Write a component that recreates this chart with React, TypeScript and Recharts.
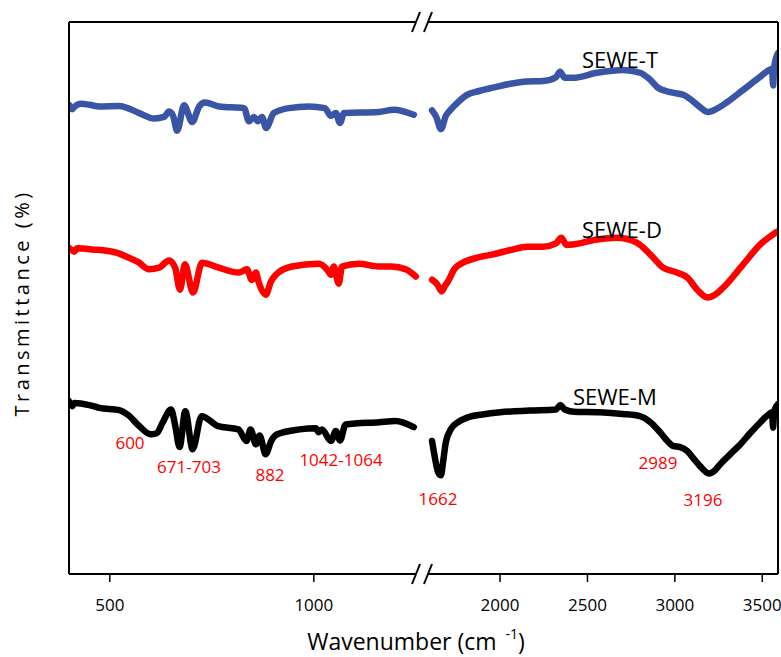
import { LineChart, Line, XAxis, YAxis } from 'recharts';

// wavenumber (cm-1) vs. offset transmittance
const tLeft: [number, number][] = [
  [400, 85.0], [408, 84.2], [413, 84.6], [430, 85.2], [450, 85.0], [474, 84.7], [523, 84.8], [572, 83.5],
  [609, 82.5], [633, 82.8], [645, 83.8], [655, 83.0], [665, 80.3], [682, 84.9], [702, 81.9], [719, 84.7],
  [733, 85.4], [768, 84.7], [829, 84.4], [841, 82.0], [853, 82.8], [863, 82.0], [873, 82.8], [883, 80.8],
  [902, 83.5], [939, 84.4], [988, 84.7], [1027, 84.4], [1042, 83.0], [1054, 83.5], [1064, 81.7],
  [1074, 83.5], [1159, 83.7], [1196, 84.1], [1245, 83.2],
];
const tRight: [number, number][] = [
  [1611, 84.0], [1635, 82.8], [1662, 80.6], [1690, 83.0], [1714, 84.0], [1760, 85.5], [1811, 86.8],
  [1880, 87.5], [1960, 88.1], [2060, 88.8], [2155, 89.2], [2246, 89.3], [2320, 90.0], [2343, 91.0],
  [2370, 89.9], [2418, 89.9], [2555, 90.8], [2704, 91.3], [2801, 90.8], [2860, 89.5], [2899, 88.2],
  [2973, 87.3], [3048, 86.8], [3090, 86.0], [3128, 85.0], [3191, 83.7], [3240, 84.3], [3300, 85.5],
  [3391, 87.7], [3489, 90.1], [3540, 91.3], [3556, 91.5], [3562, 88.5], [3568, 91.8], [3591, 94.4],
];

const dLeft: [number, number][] = [
  [400, 59.1], [408, 58.6], [413, 58.4], [420, 59.0], [457, 58.8], [516, 58.2], [540, 57.5], [570, 56.5],
  [596, 55.2], [621, 55.5], [645, 56.8], [660, 55.5], [672, 51.5], [684, 56.1], [704, 51.0], [726, 56.4],
  [767, 55.5], [816, 54.6], [836, 55.2], [848, 53.3], [858, 54.6], [865, 52.8], [882, 50.6], [895, 53.0],
  [907, 54.2], [946, 55.7], [1012, 56.2], [1032, 55.2], [1042, 54.2], [1049, 55.7], [1061, 52.6],
  [1069, 55.7], [1110, 56.2], [1159, 55.7], [1191, 55.7], [1225, 55.2], [1250, 53.9],
];
const dRight: [number, number][] = [
  [1611, 53.3], [1640, 52.5], [1666, 51.2], [1685, 52.2], [1702, 53.0], [1740, 55.3], [1788, 56.4],
  [1870, 57.3], [1960, 57.9], [2060, 58.7], [2155, 59.3], [2246, 59.3], [2320, 59.9], [2350, 60.9],
  [2380, 59.6], [2418, 59.7], [2555, 60.6], [2670, 60.9], [2784, 60.0], [2859, 57.9], [2933, 55.5],
  [3013, 54.6], [3071, 53.7], [3128, 51.5], [3185, 50.1], [3230, 50.6], [3277, 51.9], [3391, 56.1],
  [3489, 59.7], [3585, 62.0],
];

const mLeft: [number, number][] = [
  [400, 31.3], [408, 30.4], [413, 31.0], [450, 30.6], [474, 30.1], [523, 29.7], [545, 28.8], [572, 26.8],
  [600, 25.3], [615, 25.5], [630, 27.5], [650, 29.8], [660, 27.0], [671, 23.0], [685, 29.5], [703, 22.6],
  [725, 28.6], [765, 26.8], [815, 26.2], [835, 24.1], [845, 26.2], [858, 23.5], [867, 25.1], [882, 21.7],
  [895, 24.0], [910, 25.3], [965, 26.2], [1005, 26.4], [1012, 25.7], [1020, 26.2], [1042, 24.1],
  [1054, 25.9], [1064, 24.2], [1078, 27.1], [1160, 27.5], [1200, 27.7], [1245, 26.6],
];
const mRight: [number, number][] = [
  [1611, 24.1], [1625, 21.5], [1645, 18.5], [1662, 17.9], [1675, 20.5], [1690, 23.9], [1720, 26.3],
  [1760, 27.5], [1817, 28.4], [1900, 28.9], [2000, 29.3], [2170, 29.6], [2320, 29.8], [2345, 30.6],
  [2370, 29.8], [2420, 29.4], [2570, 29.3], [2700, 29.0], [2800, 28.6], [2860, 27.5], [2915, 25.7],
  [2960, 24.0], [2989, 23.2], [3030, 23.0], [3070, 22.3], [3110, 20.8], [3145, 19.5], [3196, 18.2],
  [3230, 18.8], [3260, 19.9], [3320, 21.8], [3375, 23.5], [3430, 25.5], [3490, 27.5], [3540, 29.0],
  [3556, 29.3], [3562, 26.5], [3568, 29.5], [3591, 30.8],
];

const leftDomain = [400, 1270];
const rightDomain = [1565, 3590];
const leftTicks = [500, 1000];
const rightTicks = [2000, 2500, 3000, 3500];

const seriesNames = ['SEWE-T', 'SEWE-D', 'SEWE-M'];
const peakLabels = ['600', '671-703', '882', '1042-1064', '1662', '2989', '3196'];

const BLUE = '#3A55A6';
const RED = '#FF0000';
const FONT = '"Open Sans", "Liberation Sans", sans-serif';

const toPts = (arr: [number, number][]) => arr.map(([x, y]) => ({ x, y }));

const tickStyle = { fill: '#000', fontSize: 17, fontFamily: FONT };

function Segment({ domain, ticks, width, margin, series }: {
  domain: number[];
  ticks: number[];
  width: number;
  margin: { top: number; right: number; bottom: number; left: number };
  series: { data: [number, number][]; color: string; id: string }[];
}) {
  return (
    <LineChart width={width} height={657} margin={margin} style={{ overflow: 'visible' }}>
      <XAxis
        dataKey="x"
        type="number"
        domain={domain}
        ticks={ticks}
        allowDataOverflow
        axisLine={false}
        tickLine={{ stroke: '#000', strokeWidth: 1.5 }}
        tickSize={8}
        tickMargin={17}
        height={40}
        tick={tickStyle}
      />
      <YAxis hide type="number" domain={[0, 100]} />
      {series.map((s) => (
        <Line
          key={s.id}
          data={toPts(s.data)}
          dataKey="y"
          type="monotone"
          stroke={s.color}
          strokeWidth={6.5}
          strokeLinecap="round"
          strokeLinejoin="round"
          dot={false}
          isAnimationActive={false}
        />
      ))}
    </LineChart>
  );
}

export default function App() {
  const left = 69, right = 778, top = 22, bottom = 574, brk = 424;
  const lbl = { fill: RED, fontSize: 17, fontFamily: FONT, textAnchor: 'middle' as const };
  const name = { fill: '#000', fontSize: 22, fontFamily: FONT };
  return (
    <div style={{ position: 'relative', width: 781, height: 657, background: '#fff', overflow: 'hidden' }}>
      <style>{'body{margin:0}'}</style>
      <div style={{ position: 'absolute', left: 0, top: 0 }}>
        <Segment
          domain={leftDomain}
          ticks={leftTicks}
          width={brk}
          margin={{ top, right: 0, bottom: 657 - bottom - 40, left }}
          series={[
            { id: 't', data: tLeft, color: BLUE },
            { id: 'd', data: dLeft, color: RED },
            { id: 'm', data: mLeft, color: '#000' },
          ]}
        />
      </div>
      <div style={{ position: 'absolute', left: brk, top: 0 }}>
        <Segment
          domain={rightDomain}
          ticks={rightTicks}
          width={781 - brk}
          margin={{ top, right: 781 - right, bottom: 657 - bottom - 40, left: 0 }}
          series={[
            { id: 't', data: tRight, color: BLUE },
            { id: 'd', data: dRight, color: RED },
            { id: 'm', data: mRight, color: '#000' },
          ]}
        />
      </div>
      <svg width={781} height={657} style={{ position: 'absolute', left: 0, top: 0, pointerEvents: 'none' }}>
        <g stroke="#000" strokeWidth={2} fill="none">
          <line x1={left} y1={top} x2={left} y2={bottom} />
          <line x1={right} y1={top} x2={right} y2={bottom} />
          <line x1={left} y1={top} x2={brk - 8} y2={top} />
          <line x1={brk + 4} y1={top} x2={right} y2={top} />
          <line x1={left} y1={bottom} x2={brk - 8} y2={bottom} />
          <line x1={brk + 4} y1={bottom} x2={right} y2={bottom} />
          <line x1={brk - 12} y1={top + 10} x2={brk - 4} y2={top - 10} />
          <line x1={brk} y1={top + 10} x2={brk + 8} y2={top - 10} />
          <line x1={brk - 12} y1={bottom + 10} x2={brk - 4} y2={bottom - 10} />
          <line x1={brk} y1={bottom + 10} x2={brk + 8} y2={bottom - 10} />
        </g>
        <text x={582} y={68} {...name}>{seriesNames[0]}</text>
        <text x={582} y={238} {...name}>{seriesNames[1]}</text>
        <text x={573} y={405} {...name}>{seriesNames[2]}</text>
        <text x={130} y={449} {...lbl}>{peakLabels[0]}</text>
        <text x={189} y={473} {...lbl}>{peakLabels[1]}</text>
        <text x={270} y={481} {...lbl}>{peakLabels[2]}</text>
        <text x={341} y={466} {...lbl}>{peakLabels[3]}</text>
        <text x={438} y={505} {...lbl}>{peakLabels[4]}</text>
        <text x={658} y={469} {...lbl}>{peakLabels[5]}</text>
        <text x={703} y={506} {...lbl}>{peakLabels[6]}</text>
        <text x={416} y={650} textAnchor="middle" fontSize={23} fontFamily={FONT} fill="#000">
          Wavenumber (cm
          <tspan dx={9} dy={-11} fontSize={14}>-1</tspan>
          <tspan dy={11}>)</tspan>
        </text>
        <text
          x={21}
          y={303}
          transform="rotate(-90 21 303)"
          textAnchor="middle"
          fontSize={20}
          letterSpacing={3.5}
          fontFamily={FONT}
          fill="#000"
          dominantBaseline="central"
        >
          Transmittance (%)
        </text>
      </svg>
    </div>
  );
}
